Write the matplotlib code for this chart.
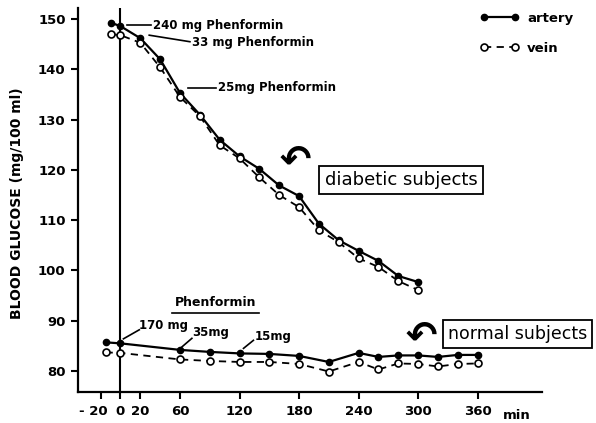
#!/usr/bin/env python3
"""Blood glucose in artery and vein after phenformin, diabetic vs normal subjects."""

import matplotlib
matplotlib.use("Agg")
import matplotlib.pyplot as plt
import matplotlib.transforms as mtransforms
from matplotlib.lines import Line2D

plt.rcParams["font.family"] = ["DejaVu Sans"]

# diabetic subjects
diab_minutes = [-10, 0, 20, 40, 60, 80, 100, 120, 140, 160, 180, 200, 220, 240, 260, 280, 300]
diab_artery = [149.3, 148.6, 146.2, 142.0, 135.3, 131.0, 126.0, 122.7, 120.2, 116.9,
               114.8, 109.3, 106.0, 103.9, 101.9, 98.9, 97.7]
diab_vein = [147.0, 146.8, 145.3, 140.4, 134.5, 130.7, 124.9, 122.3, 118.5, 115.0,
             112.6, 108.0, 105.6, 102.4, 100.7, 97.9, 96.1]

# normal subjects
norm_minutes = [-15, 0, 60, 90, 120, 150, 180, 210, 240, 260, 280, 300, 320, 340, 360]
norm_artery = [85.7, 85.5, 84.2, 83.8, 83.5, 83.4, 83.0, 81.8, 83.6, 82.8, 83.1, 83.1,
               82.8, 83.2, 83.2]
norm_vein = [83.7, 83.6, 82.3, 82.0, 81.8, 81.8, 81.4, 79.9, 81.8, 80.3, 81.5, 81.4,
             80.9, 81.4, 81.5]

x_ticks = [-20, 0, 20, 60, 120, 180, 240, 300, 360]
x_tick_labels = ["- 20", "0", "20", "60", "120", "180", "240", "300", "360"]
y_ticks = [80, 90, 100, 110, 120, 130, 140, 150]

fig = plt.figure(figsize=(5.96, 4.23), dpi=100)
ax = fig.add_axes([0.131, 0.073, 0.778, 0.908])

artery_style = dict(color="black", lw=1.6, marker="o", ms=4.5, mfc="black", mec="black")
vein_style = dict(color="black", lw=1.3, ls=(0, (4, 3)), marker="o", ms=5, mfc="white",
                  mec="black", mew=1.2)

ax.plot(diab_minutes, diab_artery, **artery_style)
ax.plot(diab_minutes, diab_vein, **vein_style)
ax.plot(norm_minutes, norm_artery, **artery_style)
ax.plot(norm_minutes, norm_vein, **vein_style)

ax.axvline(0, color="black", lw=1.5, zorder=0)

ax.set_xlim(-42.7, 424.6)
ax.set_ylim(75.8, 152.2)
ax.set_xticks(x_ticks)
ax.set_xticklabels(x_tick_labels)
ax.set_yticks(y_ticks)
for side in ["top", "right"]:
    ax.spines[side].set_visible(False)
for side in ["left", "bottom"]:
    ax.spines[side].set_linewidth(1.6)
ax.tick_params(width=1.5, length=5, labelsize=9.5, pad=4)
for lab in ax.get_xticklabels() + ax.get_yticklabels():
    lab.set_fontweight("bold")

# nudge the "- 20" label left so it clears the "0"
first = ax.xaxis.get_major_ticks()[0].label1
first.set_transform(first.get_transform()
                    + mtransforms.ScaledTranslation(-5 / 72, 0, fig.dpi_scale_trans))

ax.text(385, -0.045, "min", transform=ax.get_xaxis_transform(), ha="left", va="top",
        fontsize=9.5, fontweight="bold")

fig.text(0.029, 0.52, "BLOOD GLUCOSE (mg/100 ml)", rotation=90, ha="center",
         va="center", fontsize=10, fontweight="bold")

# dose annotations, diabetic
txt = dict(fontsize=8.5, fontweight="bold", va="center")
ax.plot([7, 31], [148.8, 148.8], color="black", lw=1.2)
ax.text(33, 148.8, "240 mg Phenformin", **txt)
ax.plot([29, 70], [146.8, 145.5], color="black", lw=1.2)
ax.text(72, 145.3, "33 mg Phenformin", **txt)
ax.plot([68, 96], [136.2, 136.2], color="black", lw=1.2)
ax.text(98, 136.3, "25mg Phenformin", **txt)

# dose annotations, normal
ax.text(96, 93.6, "Phenformin", fontsize=9, fontweight="bold", ha="center", va="center")
ax.plot([52, 140], [91.6, 91.6], color="black", lw=1.2)
ax.plot([3, 19], [86.4, 88.2], color="black", lw=1.2)
ax.text(19, 89.1, "170 mg", **txt)
ax.plot([62, 72], [84.8, 86.5], color="black", lw=1.2)
ax.text(72, 87.6, "35mg", **txt)
ax.plot([124, 134], [84.5, 86.1], color="black", lw=1.2)
ax.text(135, 86.9, "15mg", **txt)

box = dict(boxstyle="square,pad=0.3", fc="white", ec="black", lw=1.3)
ax.text(283, 118.0, "diabetic subjects", fontsize=13, ha="center", va="center", bbox=box)
ax.text(400, 87.4, "normal subjects", fontsize=12.5, ha="center", va="center", bbox=box,
        clip_on=False)

# curved pointer arrows
ax.text(176, 121.6, "\u21b6", fontsize=27, fontweight="bold", ha="center", va="center")
ax.text(303, 86.6, "\u21b6", fontsize=27, fontweight="bold", ha="center", va="center")

handles = [
    Line2D([], [], **artery_style),
    Line2D([], [], **vein_style),
]
fig.legend(handles, ["artery", "vein"], loc="upper left", bbox_to_anchor=(0.785, 1.0),
           frameon=False, numpoints=2, handlelength=3.0, handletextpad=0.6,
           prop={"size": 9.5, "weight": "bold"}, labelspacing=1.3)

fig.savefig("out.png", dpi=100)
